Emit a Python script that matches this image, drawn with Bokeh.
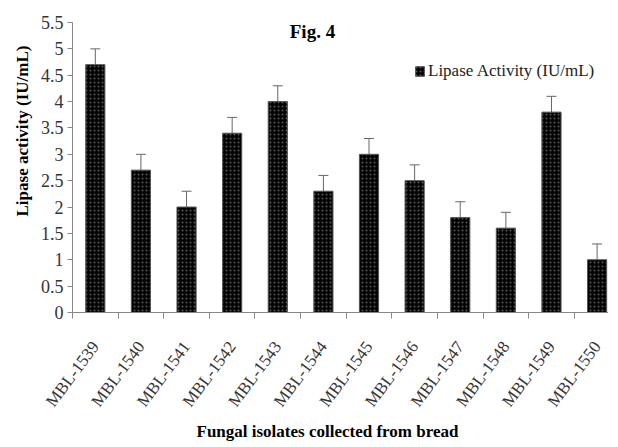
import numpy as np
from bokeh.plotting import figure
from bokeh.models import Range1d, FixedTicker, Whisker, TeeHead, ColumnDataSource, Label, Legend, Title
from bokeh.embed import file_html
from bokeh.resources import INLINE

isolates = ["MBL-1539", "MBL-1540", "MBL-1541", "MBL-1542", "MBL-1543", "MBL-1544",
            "MBL-1545", "MBL-1546", "MBL-1547", "MBL-1548", "MBL-1549", "MBL-1550"]
activity = [4.7, 2.7, 2.0, 3.4, 4.0, 2.3, 3.0, 2.5, 1.8, 1.6, 3.8, 1.0]
error = [0.3, 0.3, 0.3, 0.3, 0.3, 0.3, 0.3, 0.3, 0.3, 0.3, 0.3, 0.3]
y_ticks = [0, 0.5, 1, 1.5, 2, 2.5, 3, 3.5, 4, 4.5, 5, 5.5]

FONT = "Liberation Serif"
n = len(isolates)
centers = [i + 0.5 for i in range(n)]
bounds = list(range(n + 1))
upper = [a + e for a, e in zip(activity, error)]

src = ColumnDataSource(dict(x=centers, y=activity, upper=upper, name=isolates))

p = figure(width=608, height=444, output_backend="svg", toolbar_location=None,
           x_range=Range1d(0, 11.75), y_range=Range1d(0, 5.5),
           min_border_left=72, min_border_top=22, min_border_right=0, min_border_bottom=132)
p.outline_line_color = None
p.grid.grid_line_color = None
p.background_fill_color = "white"

r = p.vbar(x="x", top="y", width=0.42, source=src, fill_color="black",
           line_color="#555555", line_width=1,
           hatch_pattern="dot", hatch_color="#5a5a5a", hatch_scale=4, hatch_weight=1)

w = Whisker(base="x", upper="upper", lower="y", source=src,
            line_color="#666666", line_width=1,
            upper_head=TeeHead(size=10, line_color="#666666", line_width=1),
            lower_head=None)
p.add_layout(w)

# y axis
p.yaxis.ticker = FixedTicker(ticks=y_ticks)
p.yaxis.major_label_overrides = {t: (f"{t:g}") for t in y_ticks}
p.yaxis.axis_line_color = "#888888"
p.yaxis.major_tick_line_color = "#888888"
p.yaxis.major_tick_in = 0
p.yaxis.major_tick_out = 5
p.yaxis.minor_tick_line_color = None
p.yaxis.major_label_text_font = FONT
p.yaxis.major_label_text_font_size = "18px"
p.yaxis.major_label_text_color = "#333333"
p.yaxis.major_label_standoff = 4

# y axis title (placed off-centre as in the original)
p.add_layout(Title(text="Lipase activity (IU/mL)", align="left", offset=96, standoff=12,
                   text_font=FONT, text_font_style="bold", text_font_size="17px",
                   text_color="black"), "left")

# x axis
p.xaxis.ticker = FixedTicker(ticks=centers, minor_ticks=bounds)
p.xaxis.major_label_overrides = {c: nm for c, nm in zip(centers, isolates)}
p.xaxis.major_label_orientation = 0.93
p.xaxis.axis_line_color = "#888888"
p.xaxis.major_tick_line_color = None
p.xaxis.minor_tick_line_color = "#888888"
p.xaxis.minor_tick_in = 0
p.xaxis.minor_tick_out = 6
p.xaxis.major_label_text_font = FONT
p.xaxis.major_label_text_font_size = "17px"
p.xaxis.major_label_text_color = "#333333"
p.xaxis.major_label_standoff = 25

# x axis title (off-centre as in the original)
p.add_layout(Title(text="Fungal isolates collected from bread", align="left", offset=124,
                   standoff=0, text_font=FONT, text_font_style="bold",
                   text_font_size="17px", text_color="black"), "below")

# title
p.add_layout(Label(x=5.26, y=5.33, text="Fig. 4", text_font=FONT, text_font_style="bold",
                   text_font_size="19px", text_align="center", text_baseline="middle",
                   text_color="black"))

legend = Legend(items=[("Lipase Activity (IU/mL)", [r])], location=(342, 231),
                border_line_color=None, background_fill_alpha=0, padding=0, margin=0,
                glyph_width=11, glyph_height=12, label_standoff=3, label_height=17,
                label_text_font=FONT, label_text_font_size="17px", label_text_color="#222222")
p.add_layout(legend)

open("out.html", "w").write(file_html(p, INLINE))
